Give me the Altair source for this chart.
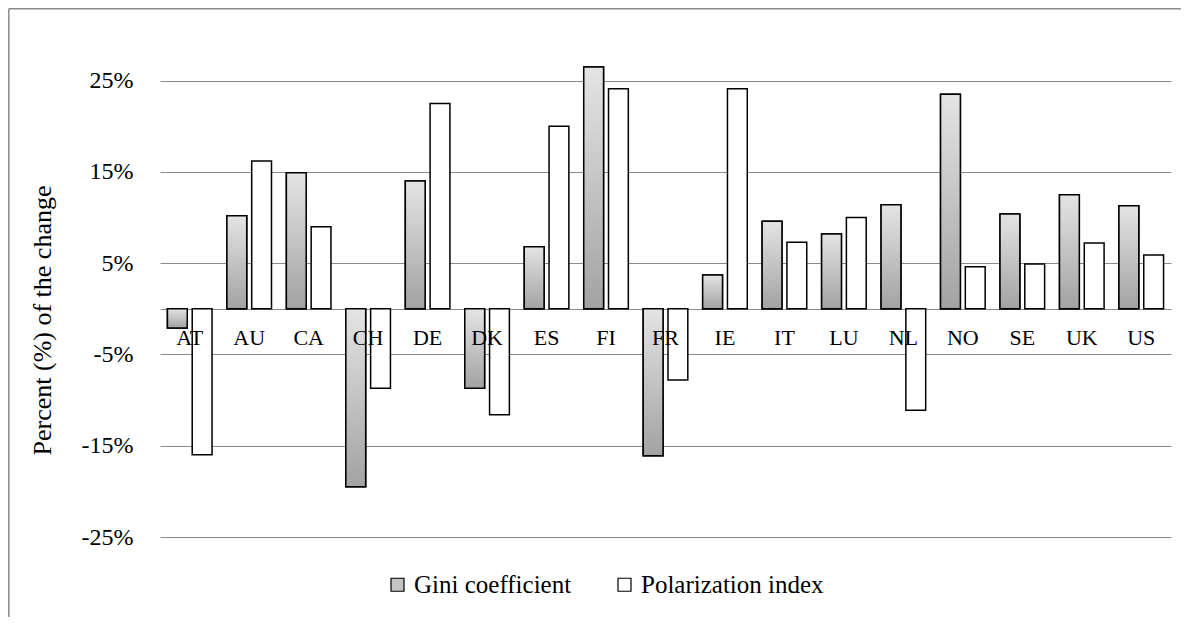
import altair as alt
import pandas as pd

countries = ["AT", "AU", "CA", "CH", "DE", "DK", "ES", "FI", "FR",
             "IE", "IT", "LU", "NL", "NO", "SE", "UK", "US"]
gini = [-2.1, 10.2, 14.9, -19.5, 14.0, -8.7, 6.8, 26.5, -16.1,
        3.7, 9.6, 8.2, 11.4, 23.5, 10.4, 12.5, 11.3]
polar = [-16.0, 16.2, 9.0, -8.7, 22.5, -11.6, 20.0, 24.1, -7.8,
         24.1, 7.3, 10.0, -11.1, 4.6, 4.9, 7.2, 5.9]
series_names = ["Gini coefficient", "Polarization index"]
tick_values = [-25, -15, -5, 0, 5, 15, 25]

rows = []
for c, g, p in zip(countries, gini, polar):
    rows.append({"country": c, "series": series_names[0], "value": g})
    rows.append({"country": c, "series": series_names[1], "value": p})
df = pd.DataFrame(rows)

FONT = "Liberation Serif"
GRID = "#8a8a8a"

x_enc = alt.X("country:N", sort=countries,
              scale=alt.Scale(domain=countries, paddingInner=0.25, paddingOuter=0.125),
              axis=None)
xoff_enc = alt.XOffset("series:N",
                       scale=alt.Scale(domain=series_names, paddingInner=0.2, paddingOuter=0))
y_enc = alt.Y("value:Q",
              scale=alt.Scale(domain=[-25, 30], nice=False, zero=False),
              axis=alt.Axis(values=tick_values,
                            labelExpr="datum.value == 0 ? '' : datum.value + '%'",
                            grid=True, gridColor=GRID, gridWidth=1.2,
                            domain=False, ticks=False,
                            labelFont=FONT, labelFontSize=24, labelColor="black",
                            labelPadding=27,
                            title="Percent (%) of the change",
                            titleFont=FONT, titleFontSize=26, titleFontWeight="normal",
                            titleColor="black",
                            titleX=-110, titleY=285, titleAngle=270,
                            titleAlign="center", titleBaseline="alphabetic"))

gradient = alt.LinearGradient(
    gradient="linear",
    stops=[alt.GradientStop(color="#e4e4e4", offset=0),
           alt.GradientStop(color="#a2a2a2", offset=1)],
    x1=0, x2=0, y1=0, y2=1)

base = alt.Chart(df).mark_bar(stroke="black", strokeWidth=1.5).encode(
    x=x_enc, xOffset=xoff_enc, y=y_enc,
    fill=alt.Fill("series:N",
                  scale=alt.Scale(domain=series_names, range=["#c4c4c4", "#ffffff"]),
                  legend=alt.Legend(title=None, orient="none", legendX=225, legendY=537,
                                    direction="horizontal", symbolType="square",
                                    symbolSize=169, symbolStrokeColor="black",
                                    symbolStrokeWidth=1.2, symbolOpacity=1,
                                    labelFont=FONT, labelFontSize=25, labelColor="black",
                                    labelLimit=0,
                                    labelOffset=4, columnPadding=40, padding=0)),
)

overlay = alt.Chart(df).transform_filter(
    alt.datum.series == series_names[0]
).mark_bar(fill=gradient, stroke="black", strokeWidth=1.5).encode(
    x=x_enc, xOffset=xoff_enc, y=y_enc,
)

labels = alt.Chart(pd.DataFrame({"country": countries})).mark_text(
    font=FONT, fontSize=22, color="black", dy=36, baseline="alphabetic"
).encode(
    x=x_enc,
    y=alt.datum(0),
    text="country:N",
)

frame_data = alt.Data(values=[{"k": 1}])
frame_left = alt.Chart(frame_data).mark_rule(color=GRID, strokeWidth=1.5).encode(
    x=alt.value(-151.2), y=alt.value(-26.2), y2=alt.value(700))
frame_top = alt.Chart(frame_data).mark_rule(color=GRID, strokeWidth=1.5).encode(
    x=alt.value(-151.2), x2=alt.value(1200), y=alt.value(-26.2))

chart = alt.layer(frame_left, frame_top, base, overlay, labels).properties(
    width=1011, height=502,
    padding={"left": 152, "top": 27, "right": 10, "bottom": 80},
    autosize=alt.AutoSizeParams(type="none"),
    background="white",
).configure_view(stroke=None)

chart.save("out.html", embed_options={"renderer": "svg", "actions": False})
